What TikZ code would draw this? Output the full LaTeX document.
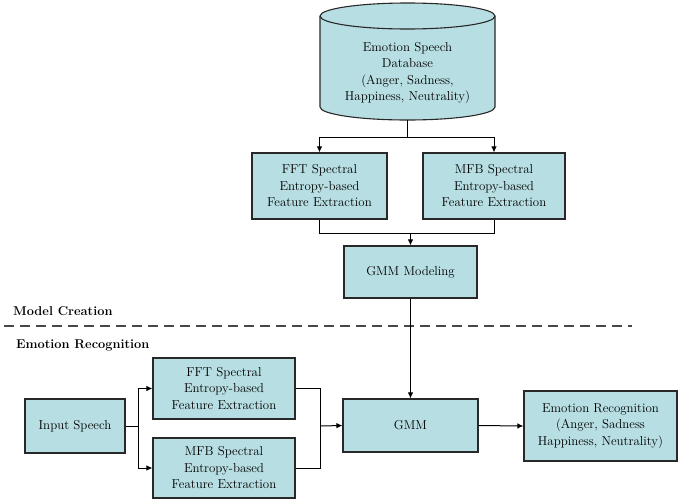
\documentclass[tikz,border=0pt]{standalone}
\usetikzlibrary{arrows.meta,calc}
\definecolor{boxfill}{RGB}{183,222,226}
\definecolor{boxline}{RGB}{40,40,40}
\begin{document}
\begin{tikzpicture}[x=1pt,y=-1pt,
  box/.style={draw=boxline,line width=1.1pt,fill=boxfill,align=center,
    font=\fontsize{12.9}{16.5}\selectfont,inner sep=0pt},
  lbl/.style={font=\fontsize{12.8}{14}\selectfont\bfseries,anchor=west,inner sep=0pt},
  conn/.style={line width=1pt,draw=black},
  arr/.style={conn,-{Latex[length=6pt,width=5.5pt]}}]
\useasboundingbox (0,0) rectangle (679,501);
% database cylinder
\filldraw[boxline,fill=boxfill,line width=1.1pt]
  (320,16) -- (320,107) arc[start angle=180,end angle=360,x radius=87.5pt,y radius=13pt]
  -- (495,16) arc[start angle=0,end angle=180,x radius=87.5pt,y radius=13pt] -- cycle;
\draw[boxline,line width=1.1pt] (320,16) arc[start angle=180,end angle=360,x radius=87.5pt,y radius=13pt];
\node[align=center,font=\fontsize{12.9}{16.5}\selectfont,inner sep=0pt] (db) at (407.5,73)
  {Emotion Speech\\Database\\(Anger, Sadness,\\Happiness, Neutrality)};
\coordinate (dbbot) at (407.5,120);
% model creation boxes
\node[box,minimum width=135pt,minimum height=66pt] (fft1) at (319.5,186)
  {FFT Spectral\\Entropy-based\\Feature Extraction};
\node[box,minimum width=142pt,minimum height=66pt] (mfb1) at (494,186)
  {MFB Spectral\\Entropy-based\\Feature Extraction};
\node[box,minimum width=133pt,minimum height=52pt] (gmmmod) at (410.5,272) {GMM Modeling};
\coordinate (split1) at (407.5,137);
\coordinate (join1) at (410.5,233);
\draw[conn] (dbbot) -- (split1);
\draw[arr] (split1) -| (fft1.north);
\draw[arr] (split1) -| (mfb1.north);
\draw[conn] (fft1.south) |- (join1);
\draw[conn] (mfb1.south) |- (join1);
\draw[arr] (join1) -- (gmmmod.north);
% labels and separator
\node[lbl] (mc) at (13,311) {Model Creation};
\node[lbl] (erl) at (16,345) {Emotion Recognition};
\coordinate (dl) at (4,326);
\coordinate (dr) at (632,326);
\draw[line width=2.6pt,dash pattern=on 9.5pt off 6.5pt,draw=black!72] (dl) -- (dr);
% recognition
\node[box,minimum width=100pt,minimum height=54pt] (inp) at (75,426) {Input Speech};
\node[box,minimum width=142pt,minimum height=61pt] (fft2) at (224,388.5)
  {FFT Spectral\\Entropy-based\\Feature Extraction};
\node[box,minimum width=142pt,minimum height=60pt] (mfb2) at (224,468)
  {MFB Spectral\\Entropy-based\\Feature Extraction};
\node[box,minimum width=135pt,minimum height=53pt] (gmm) at (410.5,425.5) {GMM};
\node[box,minimum width=153pt,minimum height=70pt] (er) at (600.5,426)
  {Emotion Recognition\\(Anger, Sadness\\Happiness, Neutrality)};
\coordinate (split2) at (138,426);
\coordinate (join2) at (320,426);
\draw[arr] (gmmmod.south) -- (gmm.north);
\draw[conn] (inp.east) -- (split2);
\draw[arr] (split2) |- (fft2.west);
\draw[arr] (split2) |- (mfb2.west);
\draw[conn] (fft2.east) -| (join2);
\draw[conn] (mfb2.east) -| (join2);
\draw[arr] (join2) -- (gmm.west);
\draw[arr] (gmm.east) -- (er.west);
\end{tikzpicture}
\end{document}
